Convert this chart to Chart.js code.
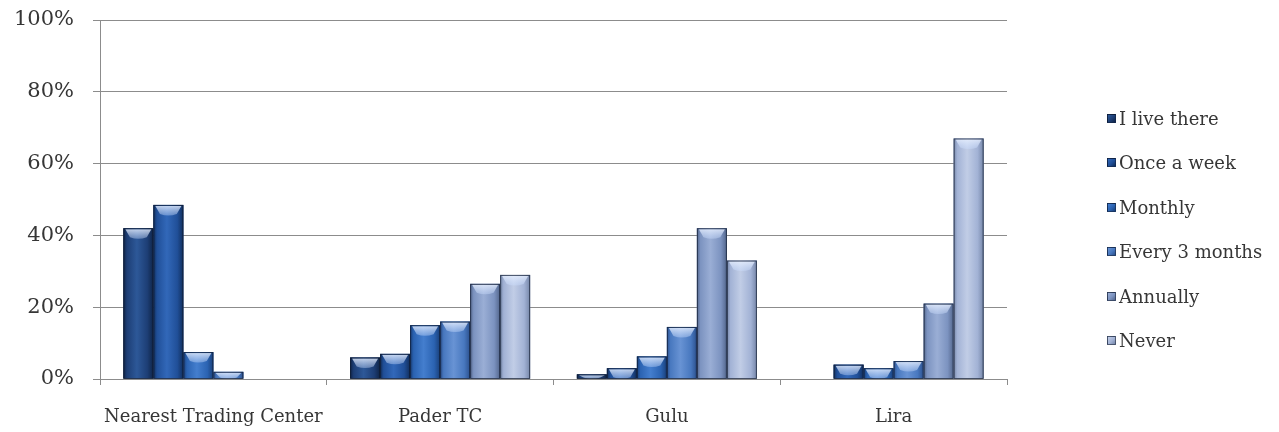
<!DOCTYPE html>
<html>
<head>
<meta charset="utf-8">
<script src="https://cdn.jsdelivr.net/npm/chart.js@4/dist/chart.umd.min.js"></script>
<style>
  html, body { margin: 0; padding: 0; background: #ffffff; }
  #wrap { position: relative; width: 1279px; height: 432px; }
  #wrap canvas { position: absolute; left: 0; top: 0; }
  #legend { position: absolute; left: 1107px; top: 0; font-family: "DejaVu Serif", serif; font-size: 18px; color: #363636; }
  .item { position: absolute; left: 0; display: flex; align-items: center; white-space: nowrap; height: 22px; }
  .sw { width: 9px; height: 9px; margin-right: 3px; box-sizing: border-box; border: 1px solid rgba(10,20,40,0.6); }
</style>
</head>
<body>
<div id="wrap">
  <canvas id="c" width="1279" height="432"></canvas>
  <div id="legend"></div>
</div>
<script>
// Places people travel to, and how often they go there (share of respondents)
const categories = ['Nearest Trading Center', 'Pader TC', 'Gulu', 'Lira'];
const seriesNames = ['I live there', 'Once a week', 'Monthly', 'Every 3 months', 'Annually', 'Never'];

const liveThere    = [42,   6,  1.3, 0];
const onceAWeek    = [48.5, 7,  3,   4];
const monthly      = [7.5,  15, 6.3, 3];
const every3Months = [2,    16, 14.5, 5];
const annually     = [0,    26.5, 42, 21];
const never        = [0,    29, 33,  67];

const yTicks = [0, 20, 40, 60, 80, 100];

const seriesValues = [liveThere, onceAWeek, monthly, every3Months, annually, never];

// fill colours per series: base, light centre, dark edge
const baseColors  = ['#1d3e75', '#204f98', '#2b63b2', '#4878bf', '#7c93c0', '#a2b2d5'];
const lightColors = ['#2d5898', '#3268b9', '#447ece', '#6893d4', '#9aaed5', '#c1cde6'];
const edgeColors  = ['#0f2447', '#112e5c', '#193f79', '#2b508d', '#53668c', '#7586a8'];

const textColor = '#363636';
const gridColor = '#8c8c8c';

// Shading for the bevelled bar look, drawn over each bar element
const bevelBars = {
  id: 'bevelBars',
  afterDatasetsDraw(chart) {
    const ctx = chart.ctx;
    chart.data.datasets.forEach((ds, di) => {
      const meta = chart.getDatasetMeta(di);
      meta.data.forEach((bar) => {
        const top = Math.min(bar.y, bar.base);
        const bottom = Math.max(bar.y, bar.base);
        const h = bottom - top;
        if (h < 0.5) return;
        const x0 = bar.x - bar.width / 2;
        const x1 = bar.x + bar.width / 2;
        const w = x1 - x0;
        ctx.save();
        // horizontal rounding: darker edges, lighter middle
        const g = ctx.createLinearGradient(x0, 0, x1, 0);
        g.addColorStop(0, edgeColors[di]);
        g.addColorStop(0.12, baseColors[di]);
        g.addColorStop(0.45, lightColors[di]);
        g.addColorStop(0.8, baseColors[di]);
        g.addColorStop(1, edgeColors[di]);
        ctx.fillStyle = g;
        ctx.fillRect(x0, top, w, h);
        // top bevel highlight
        const capH = Math.min(9, h - 1);
        if (capH > 1) {
          const hg = ctx.createLinearGradient(0, top, 0, top + capH + 3);
          hg.addColorStop(0, 'rgba(235,242,255,0.85)');
          hg.addColorStop(1, 'rgba(200,220,255,0.3)');
          ctx.fillStyle = hg;
          ctx.beginPath();
          ctx.moveTo(x0 + 2, top + 1);
          ctx.lineTo(x1 - 2, top + 1);
          ctx.lineTo(x1 - w * 0.22, top + capH);
          ctx.quadraticCurveTo(bar.x, top + capH + 3, x0 + w * 0.22, top + capH);
          ctx.closePath();
          ctx.fill();
        }
        // outline
        ctx.strokeStyle = 'rgba(15,25,45,0.7)';
        ctx.lineWidth = 1;
        ctx.strokeRect(x0 + 0.5, top + 0.5, w - 1, h - 0.5);
        ctx.restore();
      });
    });
  }
};

const datasets = seriesNames.map((name, i) => ({
  label: name,
  data: seriesValues[i],
  backgroundColor: baseColors[i],
  borderWidth: 0,
  categoryPercentage: 0.794,
  barPercentage: 1.0
}));

new Chart(document.getElementById('c'), {
  type: 'bar',
  data: { labels: categories, datasets },
  options: {
    responsive: false,
    animation: false,
    layout: { padding: { left: 0, right: 272, top: 20, bottom: 0 } },
    plugins: { legend: { display: false }, tooltip: { enabled: false } },
    scales: {
      x: {
        grid: { display: true, drawOnChartArea: false, drawTicks: true, tickLength: 6, color: gridColor, offset: true },
        border: { display: true, color: gridColor, width: 1 },
        ticks: { color: textColor, font: { family: 'DejaVu Serif', size: 18 }, padding: 22, maxRotation: 0 },
        afterFit(scale) { scale.height = 53; scale.paddingLeft = 0; scale.paddingRight = 0; }
      },
      y: {
        min: 0, max: 100,
        afterBuildTicks(scale) { scale.ticks = yTicks.map(v => ({ value: v })); },
        grid: { color: gridColor, lineWidth: 1, drawTicks: true, tickLength: 7 },
        border: { display: true, color: gridColor, width: 1 },
        ticks: { color: textColor, font: { family: 'DejaVu Serif', size: 21 }, padding: 19, callback: v => v + '%' },
        afterFit(scale) { scale.width = 100; scale.paddingTop = 0; scale.paddingBottom = 0; }
      }
    }
  },
  plugins: [bevelBars]
});

// Legend
const legend = document.getElementById('legend');
const rowCenters = [118, 162.5, 207, 251.5, 296, 340.5];
seriesNames.forEach((name, i) => {
  const item = document.createElement('div');
  item.className = 'item';
  item.style.top = (rowCenters[i] - 11) + 'px';
  const sw = document.createElement('span');
  sw.className = 'sw';
  sw.style.background = 'linear-gradient(135deg, ' + lightColors[i] + ', ' + baseColors[i] + ' 55%, ' + edgeColors[i] + ')';
  const tx = document.createElement('span');
  tx.textContent = name;
  item.appendChild(sw);
  item.appendChild(tx);
  legend.appendChild(item);
});
</script>
</body>
</html>
